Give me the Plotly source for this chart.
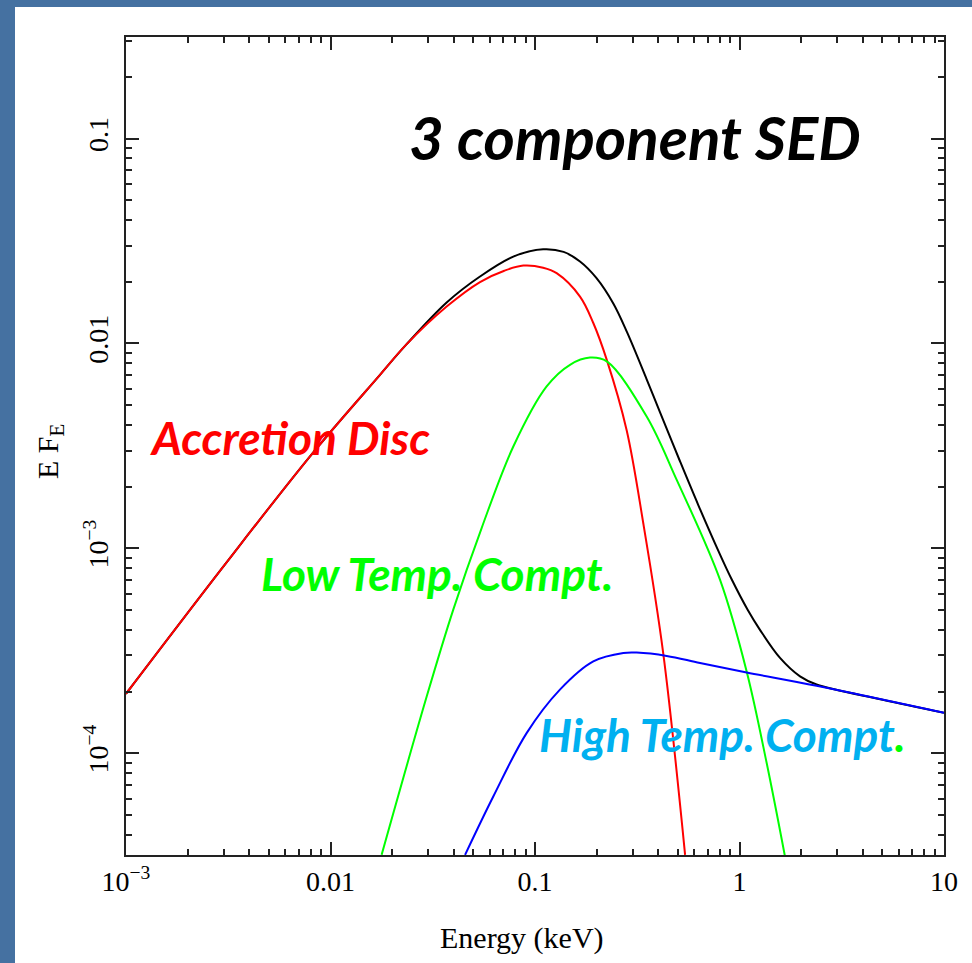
import plotly.graph_objects as go

# ---- data (Energy in keV, E*F_E) ----
energy_total = [0.001, 0.003083, 0.008185, 0.01746, 0.02339, 0.03698, 0.05383, 0.07834,
                0.1096, 0.1380, 0.1660, 0.1995, 0.2415, 0.2818, 0.3516, 0.4083, 0.5117, 0.6295,
                0.7943, 0.9141, 1.096, 1.259, 1.578, 1.977, 2.382, 5.012, 10.0]
flux_total = [1.950e-4, 8.47e-4, 2.917e-3, 7.03e-3, 9.84e-3, 0.01585, 0.02123, 0.02655,
              0.02884, 0.02799, 0.02512, 0.02089, 0.01567, 0.01135, 6.683e-3, 4.624e-3, 2.661e-3,
              1.622e-3, 9.55e-4, 7.079e-4, 5.012e-4, 4.00e-4, 2.917e-4, 2.371e-4, 2.163e-4,
              1.824e-4, 1.574e-4]

energy_disc = [0.001, 0.003083, 0.008185, 0.01746, 0.02339, 0.03698, 0.05383, 0.07079,
               0.0877, 0.1096, 0.1276, 0.1660, 0.1928, 0.2244, 0.2805, 0.3388, 0.4236, 0.5420]
flux_disc = [1.950e-4, 8.47e-4, 2.917e-3, 7.03e-3, 9.84e-3, 0.01514, 0.01995, 0.02265,
             0.02399, 0.02344, 0.02203, 0.01694, 0.01259, 8.32e-3, 3.784e-3, 1.318e-3, 3.083e-4, 3.19e-5]

energy_low = [0.01778, 0.02951, 0.03981, 0.05483, 0.07834, 0.1140, 0.1483, 0.1858, 0.2244,
              0.3516, 0.4932, 0.8035, 1.084, 1.358, 1.667]
flux_low = [3.19e-5, 1.884e-4, 5.01e-4, 1.256e-3, 3.141e-3, 6.17e-3, 7.87e-3, 8.53e-3, 8.17e-3,
            4.40e-3, 2.158e-3, 7.01e-4, 2.506e-4, 8.95e-5, 3.15e-5]

energy_high = [0.0455, 0.06252, 0.09099, 0.1324, 0.1928, 0.2704, 0.3141, 0.4406, 0.6412,
               1.084, 2.382, 10.0]
flux_high = [3.19e-5, 6.15e-5, 1.253e-4, 2.042e-4, 2.805e-4, 3.083e-4, 3.097e-4, 2.985e-4,
             2.754e-4, 2.477e-4, 2.133e-4, 1.574e-4]

x_tick_vals = [1e-3, 1e-2, 0.1, 1, 10]
x_tick_text = ["10<sup>−3</sup>", "0.01", "0.1", "1", "10"]
y_tick_vals = [1e-4, 1e-3, 1e-2, 0.1]
y_tick_text = ["10<sup>−4</sup>", "10<sup>−3</sup>", "0.01", "0.1"]

x_minor = [m * 10.0 ** k for k in range(-3, 1) for m in range(2, 10)]
y_minor = [m * 10.0 ** k for k in range(-5, 0) for m in range(2, 10)]

W, H = 972, 963
L, R, T, B = 126, 28, 37, 108
PW, PH = W - L - R, H - T - B


def px(x):
    return (x - L) / PW


def py(y):
    return (H - B - y) / PH


fig = go.Figure()
series = [
    (energy_total, flux_total, "black"),
    (energy_disc, flux_disc, "#ff0000"),
    (energy_low, flux_low, "#00ff00"),
    (energy_high, flux_high, "#0000ff"),
]
for xs, ys, col in series:
    fig.add_trace(go.Scatter(x=xs, y=ys, mode="lines",
                             line=dict(color=col, width=2, shape="spline", smoothing=1.0),
                             hoverinfo="skip", showlegend=False))

axis_common = dict(
    type="log", showgrid=False, zeroline=False, showline=True, linecolor="#222",
    linewidth=2, mirror="ticks", ticks="inside", ticklen=13, tickwidth=1.5, tickcolor="#222",
    tickmode="array",
    tickfont=dict(family="Liberation Serif", size=28, color="black"),
    minor=dict(ticks="inside", ticklen=6, tickwidth=1.5, tickcolor="#222", tickmode="array",
               showgrid=False),
)

fig.update_xaxes(**axis_common, range=[-3, 1], tickvals=x_tick_vals, ticktext=x_tick_text)
fig.update_xaxes(minor_tickvals=x_minor)
fig.update_yaxes(**axis_common, range=[-4.497, -0.504], tickvals=y_tick_vals, ticktext=y_tick_text,
                 tickangle=-90, ticklabelstandoff=5)
fig.update_yaxes(minor_tickvals=y_minor)

lab_font = dict(family="Lato", weight="bold", style="italic")
annots = [
    dict(text="3 component SED", x=px(635), y=py(137), color="black", size=60),
    dict(text="Accretion Disc", x=px(290), y=py(438), color="#ff0000", size=46),
    dict(text="Low Temp. Compt.", x=px(436.5), y=py(573), color="#00ff00", size=46),
    dict(text="High Temp. Compt<span style='color:#00ff00'>.</span>", x=px(722.5), y=py(734),
         color="#00b0f0", size=46),
]
for a in annots:
    fig.add_annotation(text=a["text"], x=a["x"], y=a["y"], xref="paper", yref="paper",
                       xanchor="center", yanchor="middle", showarrow=False,
                       font=dict(**lab_font, color=a["color"], size=a["size"]))

fig.add_annotation(text="Energy (keV)", x=px(521.5), y=py(938), xref="paper", yref="paper",
                   showarrow=False, xanchor="center", yanchor="middle",
                   font=dict(family="Liberation Serif", size=30, color="black"))
fig.add_annotation(text="E F<sub>E</sub>", x=px(50), y=py(452), xref="paper", yref="paper",
                   showarrow=False, xanchor="center", yanchor="middle", textangle=-90,
                   font=dict(family="Liberation Serif", size=30, color="black"))

fig.add_shape(type="rect", xref="paper", yref="paper", x0=px(15), x1=px(W + 20),
              y0=py(H + 20), y1=py(7), fillcolor="white", line=dict(width=0), layer="below")

fig.update_layout(width=W, height=H, margin=dict(l=L, r=R, t=T, b=B, autoexpand=False),
                  paper_bgcolor="#4571a1", plot_bgcolor="white")

fig.write_html("out.html")
